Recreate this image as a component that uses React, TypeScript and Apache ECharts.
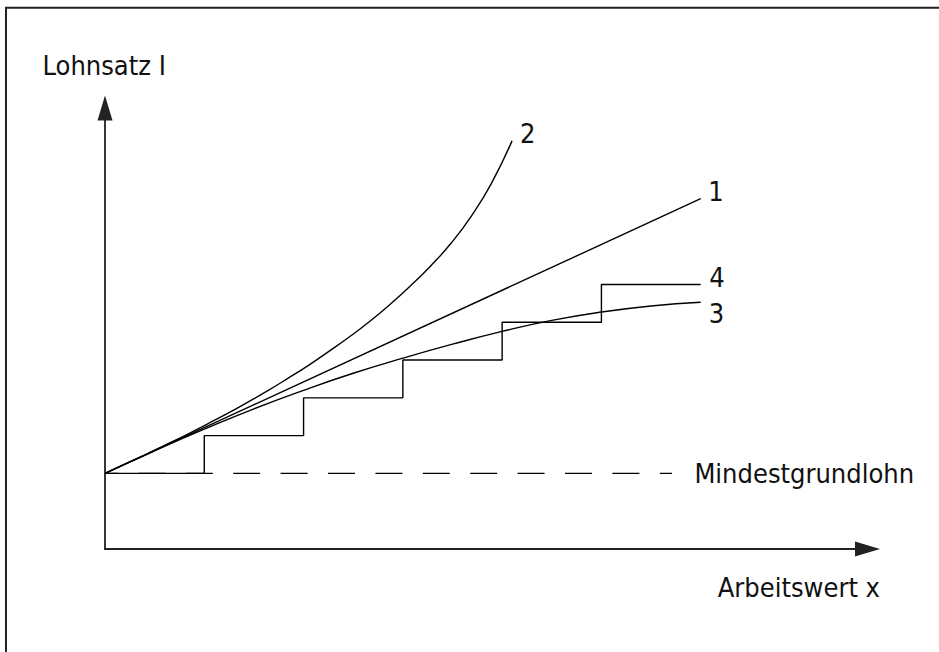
import React, { useEffect, useRef } from "react";
import * as echarts from "echarts";

// Lohnkurven: x = Arbeitswert (Stufen), y = Lohnsatz (relative Einheiten)
const curve1Linear: number[][] = [
  [0, 2.0],
  [6.0, 9.27],
];
const curve2Progressive: number[][] = [
  [0, 2.0],
  [0.205, 2.25],
  [0.41, 2.5],
  [0.615, 2.76],
  [0.82, 3.02],
  [1.025, 3.3],
  [1.23, 3.58],
  [1.435, 3.88],
  [1.64, 4.19],
  [1.845, 4.52],
  [2.05, 4.86],
  [2.255, 5.23],
  [2.46, 5.61],
  [2.665, 6.02],
  [2.87, 6.47],
  [3.075, 6.96],
  [3.28, 7.49],
  [3.485, 8.09],
  [3.69, 8.81],
  [3.895, 9.69],
  [4.1, 10.8],
];
const curve3Degressive: number[][] = [
  [0, 2.0],
  [0.5, 2.6],
  [1.0, 3.17],
  [1.5, 3.71],
  [2.0, 4.2],
  [2.5, 4.65],
  [3.0, 5.05],
  [3.5, 5.42],
  [4.0, 5.76],
  [4.5, 6.05],
  [5.0, 6.27],
  [5.5, 6.43],
  [6.0, 6.53],
];
const curve4Steps: number[][] = [
  [0, 2],
  [1, 3],
  [2, 4],
  [3, 5],
  [4, 6],
  [5, 7],
  [6, 7],
];
const minimumWage: number[][] = [
  [0, 2],
  [5.71, 2],
];
const curveLabels = ["1", "2", "3", "4"];
const minimumWageLabel = "Mindestgrundlohn";
const yAxisTitle = "Lohnsatz I";
const xAxisTitle = "Arbeitswert x";

const FONT =
  "'DejaVu Sans Condensed', 'Liberation Sans Narrow', 'Roboto Condensed', 'DejaVu Sans', sans-serif";
const FS = 27;
const INK = "#111";

export default function App() {
  const ref = useRef<HTMLDivElement>(null);
  useEffect(() => {
    if (!ref.current) return;
    const chart = echarts.init(ref.current, undefined, { renderer: "svg" });
    const labelStyle = (dx: number, dy: number, text: string) => ({
      show: true,
      formatter: text,
      distance: 0,
      offset: [dx, dy],
      fontFamily: FONT,
      fontSize: FS,
      color: INK,
      align: "left",
      verticalAlign: "middle",
    });
    const lineStyle = { color: "#000", width: 1.4 };
    chart.setOption({
      animation: false,
      backgroundColor: "#fff",
      grid: { left: 105, right: 71.5, top: 108, bottom: 103, containLabel: false },
      xAxis: {
        type: "value",
        min: 0,
        max: 7.68,
        axisLine: {
          show: true,
          symbol: ["none", "triangle"],
          symbolSize: [15, 25],
          lineStyle: { color: "#222", width: 1.8 },
        },
        axisTick: { show: false },
        axisLabel: { show: false },
        splitLine: { show: false },
      },
      yAxis: {
        type: "value",
        min: 0,
        max: 11.67,
        axisLine: {
          show: true,
          symbol: ["none", "triangle"],
          symbolSize: [15, 25],
          lineStyle: { color: "#222", width: 1.8 },
        },
        axisTick: { show: false },
        axisLabel: { show: false },
        splitLine: { show: false },
      },
      series: [
        {
          type: "line",
          name: "Mindestgrundlohn",
          data: minimumWage,
          showSymbol: false,
          lineStyle: { color: "#000", width: 1.4, type: [27, 20.4], dashOffset: 13.9 },
          endLabel: labelStyle(22.5, 0, minimumWageLabel),
        },
        {
          type: "line",
          name: "4",
          data: curve4Steps,
          step: "end",
          showSymbol: false,
          lineStyle,
          endLabel: labelStyle(8.5, -6.7, curveLabels[3]),
        },
        {
          type: "line",
          name: "3",
          data: curve3Degressive,
          smooth: true,
          showSymbol: false,
          lineStyle,
          endLabel: labelStyle(8, 11, curveLabels[2]),
        },
        {
          type: "line",
          name: "1",
          data: curve1Linear,
          showSymbol: false,
          lineStyle,
          endLabel: labelStyle(7.5, -7.3, curveLabels[0]),
        },
        {
          type: "line",
          name: "2",
          data: curve2Progressive,
          smooth: true,
          showSymbol: false,
          lineStyle,
          endLabel: labelStyle(8, -7, curveLabels[1]),
        },
      ],
      graphic: [
        {
          type: "rect",
          shape: { x: 6, y: 7.7, width: 2000, height: 2000 },
          style: { fill: "none", stroke: "#222", lineWidth: 2 },
          silent: true,
        },
        {
          type: "text",
          x: 42.5,
          y: 65.5,
          style: {
            text: yAxisTitle,
            fontFamily: FONT,
            fontSize: FS,
            fill: INK,
            textAlign: "left",
            textVerticalAlign: "middle",
          },
        },
        {
          type: "text",
          x: 880,
          y: 587,
          style: {
            text: xAxisTitle,
            fontFamily: FONT,
            fontSize: FS,
            fill: INK,
            textAlign: "right",
            textVerticalAlign: "middle",
          },
        },
      ],
    });
    return () => chart.dispose();
  }, []);
  return (
    <div
      ref={ref}
      style={{ position: "fixed", left: 0, top: 0, width: 939, height: 652, background: "#fff" }}
    />
  );
}
